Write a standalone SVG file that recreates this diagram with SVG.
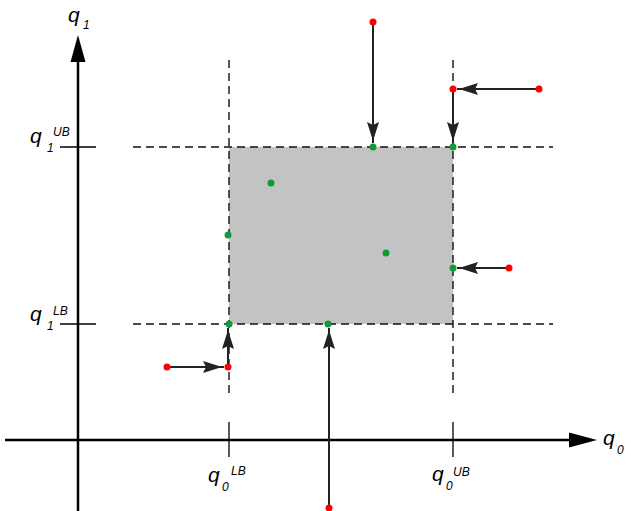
<svg xmlns="http://www.w3.org/2000/svg" width="625" height="511" viewBox="0 0 625 511">
<style>
.axis{stroke:#000;stroke-width:2.5;fill:none}
.tick{stroke:#000;stroke-width:1.3;fill:none}
.dash{stroke:#111;stroke-width:1.4;stroke-dasharray:8 5;fill:none}
.arr{stroke:#222;stroke-width:2;fill:none;marker-end:url(#ah)}
.red{fill:#f00}
.grn{fill:#0e9c3a}
text{font-family:"Liberation Sans",Arial,sans-serif;font-style:italic;fill:#000}
.q{font-size:21px}
.s{font-size:12px}
.sup{font-size:12px}
</style>
<defs>
<marker id="ah" markerUnits="userSpaceOnUse" markerWidth="22" markerHeight="14" refX="21" refY="6" orient="auto">
<path d="M0,0 L19,6 L0,12 L3,6 Z" fill="#222"/>
</marker>
</defs>
<rect x="229" y="147" width="224" height="177" fill="#c3c3c3"/>
<g id="axes">
<line class="axis" x1="78" y1="511" x2="78" y2="60"/>
<polygon points="78,35 70.5,62 85.5,62" fill="#000"/>
<line class="axis" x1="5" y1="440" x2="572" y2="440"/>
<polygon points="597,440 569,432.5 569,447.5" fill="#000"/>
<line class="tick" x1="60" y1="147" x2="96" y2="147"/>
<line class="tick" x1="60" y1="324" x2="96" y2="324"/>
<line class="tick" x1="229" y1="422" x2="229" y2="457"/>
<line class="tick" x1="453" y1="422" x2="453" y2="457"/>
</g>
<g id="bounds">
<line class="dash" x1="133" y1="147" x2="553" y2="147"/>
<line class="dash" x1="133" y1="324" x2="553" y2="324"/>
<line class="dash" x1="229" y1="60" x2="229" y2="396"/>
<line class="dash" x1="453" y1="60" x2="453" y2="396"/>
</g>
<g id="connectors">
<line class="arr" x1="373" y1="22" x2="373" y2="143"/>
<line class="arr" x1="539" y1="89" x2="457" y2="89"/>
<line class="arr" x1="453" y1="89" x2="453" y2="143"/>
<line class="arr" x1="509" y1="268" x2="457" y2="268"/>
<line class="arr" x1="167" y1="367" x2="224" y2="367"/>
<line class="arr" x1="228" y1="367" x2="228" y2="328"/>
<line class="arr" x1="329" y1="508" x2="329" y2="328"/>
</g>
<g id="points">
<circle class="grn" cx="373" cy="147" r="3.5"/>
<circle class="grn" cx="453" cy="147" r="3.5"/>
<circle class="grn" cx="271" cy="183" r="3.5"/>
<circle class="grn" cx="228" cy="235" r="3.5"/>
<circle class="grn" cx="386" cy="253" r="3.5"/>
<circle class="grn" cx="453" cy="268" r="3.5"/>
<circle class="grn" cx="229" cy="324" r="3.5"/>
<circle class="grn" cx="328" cy="324" r="3.5"/>
<circle class="red" cx="373" cy="22" r="3.5"/>
<circle class="red" cx="453" cy="89" r="3.5"/>
<circle class="red" cx="539" cy="89" r="3.5"/>
<circle class="red" cx="509" cy="268" r="3.5"/>
<circle class="red" cx="167" cy="367" r="3.5"/>
<circle class="red" cx="228" cy="367" r="3.5"/>
<circle class="red" cx="329" cy="508" r="3.5"/>
</g>
<g id="labels">
<text class="q" x="68" y="22">q</text><text class="s" x="83" y="29">1</text>
<text class="q" x="30" y="143">q</text><text class="s" x="47" y="152">1</text><text class="sup" x="53" y="136">UB</text>
<text class="q" x="30" y="321">q</text><text class="s" x="47" y="330">1</text><text class="sup" x="53" y="315">LB</text>
<text class="q" x="208" y="482">q</text><text class="s" x="222" y="491">0</text><text class="sup" x="231" y="475">LB</text>
<text class="q" x="432" y="481">q</text><text class="s" x="446" y="490">0</text><text class="sup" x="453" y="476">UB</text>
<text class="q" x="603" y="445">q</text><text class="s" x="617" y="454">0</text>
</g>
</svg>
